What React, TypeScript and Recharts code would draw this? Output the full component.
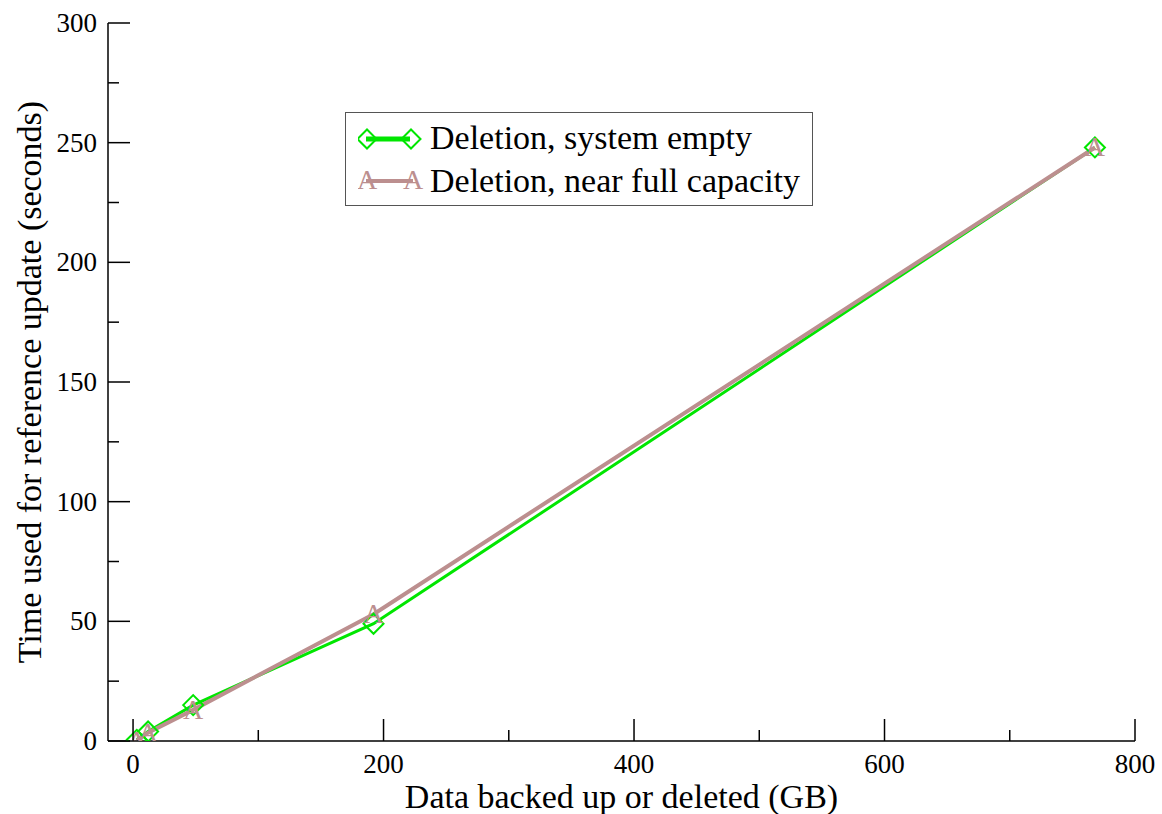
import React from 'react';
import { LineChart, Line, XAxis, YAxis, Legend, Label } from 'recharts';

const xValues = [3, 12, 48, 192, 768];
const emptyTimes = [0.5, 4, 15, 49, 248];
const fullTimes = [0.2, 3.5, 13, 53, 248];
const seriesNames = ['Deletion, system empty', 'Deletion, near full capacity'];
const xTicks = [0, 100, 200, 300, 400, 500, 600, 700, 800];
const xLabelTicks = [0, 200, 400, 600, 800];
const yTicks = [0, 25, 50, 75, 100, 125, 150, 175, 200, 225, 250, 275, 300];
const yLabelTicks = [0, 50, 100, 150, 200, 250, 300];
const xTitle = 'Data backed up or deleted (GB)';
const yTitle = 'Time used for reference update (seconds)';

const data = xValues.map((x, i) => ({ x, empty: emptyTimes[i], full: fullTimes[i] }));

const GREEN = '#00e600';
const BROWN = '#bc8f8f';
const FONT = '"Liberation Serif", "DejaVu Serif", serif';
const TICK_FONT = 27;
const TITLE_FONT = 34;
const LEGEND_FONT = 34;
const MAJOR = 22;
const MINOR = 11;

const BottomTick = (p: any) => {
  const { x, y, payload } = p;
  const major = xLabelTicks.includes(payload.value);
  return (
    <g>
      <line x1={x} x2={x} y1={y} y2={y - (major ? MAJOR : MINOR)} stroke="#000" strokeWidth={1.5} />
      {major && (
        <text x={x} y={y + 32} textAnchor="middle" fontSize={TICK_FONT} fontFamily={FONT} fill="#000">
          {payload.value}
        </text>
      )}
    </g>
  );
};

const TopTick = (p: any) => {
  const { x, y, payload } = p;
  const major = xLabelTicks.includes(payload.value);
  return <line x1={x} x2={x} y1={y} y2={y + (major ? MAJOR : MINOR)} stroke="#000" strokeWidth={1.5} />;
};

const LeftTick = (p: any) => {
  const { x, y, payload } = p;
  const major = yLabelTicks.includes(payload.value);
  return (
    <g>
      <line x1={x} x2={x + (major ? MAJOR : MINOR)} y1={y} y2={y} stroke="#000" strokeWidth={1.5} />
      {major && (
        <text x={x - 11} y={y + 9} textAnchor="end" fontSize={TICK_FONT} fontFamily={FONT} fill="#000">
          {payload.value}
        </text>
      )}
    </g>
  );
};

const RightTick = (p: any) => {
  const { x, y, payload } = p;
  const major = yLabelTicks.includes(payload.value);
  return <line x1={x} x2={x - (major ? MAJOR : MINOR)} y1={y} y2={y} stroke="#000" strokeWidth={1.5} />;
};

const Diamond = ({ cx, cy, r = 10, sw = 2 }: any) => (
  <path d={`M${cx - r},${cy} L${cx},${cy - r} L${cx + r},${cy} L${cx},${cy + r} Z`} fill="none" stroke={GREEN} strokeWidth={sw} />
);

const AMark = ({ cx, cy }: any) => (
  <text x={cx} y={cy + 9} textAnchor="middle" fontSize={28} fontFamily={FONT} fill={BROWN}>
    A
  </text>
);

const renderDiamond = (p: any) => {
  if (p.cx == null || p.cy == null) return <g key={p.index} />;
  return <Diamond key={p.index} cx={p.cx} cy={p.cy} />;
};
const renderA = (p: any) => {
  if (p.cx == null || p.cy == null) return <g key={p.index} />;
  return <AMark key={p.index} cx={p.cx} cy={p.cy} />;
};

const LegendBox = () => (
  <div
    style={{
      border: '1.5px solid #555',
      background: '#fff',
      width: 468,
      height: 94,
      boxSizing: 'border-box',
      fontFamily: FONT,
      fontSize: LEGEND_FONT,
      color: '#000',
      position: 'relative',
    }}
  >
    {seriesNames.map((name, i) => (
      <div key={name} style={{ position: 'absolute', left: 12, top: i === 0 ? 6 : 49, height: 38, display: 'flex', alignItems: 'center' }}>
        <svg width={72} height={38} style={{ display: 'block' }}>
          {i === 0 ? (
            <g>
              <line x1={8} x2={52} y1={20} y2={20} stroke={GREEN} strokeWidth={5} />
              <Diamond cx={9} cy={20} r={9.5} sw={2} />
              <Diamond cx={53} cy={20} r={9.5} sw={2} />
            </g>
          ) : (
            <g>
              <line x1={8} x2={55} y1={19} y2={19} stroke={BROWN} strokeWidth={4} />
              <AMark cx={9} cy={18} />
              <AMark cx={55} cy={18} />
            </g>
          )}
        </svg>
        <span style={{ marginLeft: 0, whiteSpace: 'nowrap', lineHeight: '38px' }}>{name}</span>
      </div>
    ))}
  </div>
);

export default function App() {
  return (
    <div style={{ position: 'absolute', left: 0, top: 0, background: '#fff' }}>
      <LineChart width={1162} height={814} data={data} margin={{ top: 23, right: 27, bottom: 0, left: 0 }}>
        <XAxis
          xAxisId="bottom"
          dataKey="x"
          type="number"
          domain={[-20, 800]}
          ticks={xTicks}
          interval={0}
          height={73}
          tickSize={0}
          tickMargin={0}
          tick={<BottomTick />}
          tickLine={false}
          axisLine={{ stroke: '#000', strokeWidth: 1.5 }}
          allowDataOverflow
        >
          <Label
            content={(lp: any) => {
              const vb = lp.viewBox || { x: 108, y: 741, width: 1027, height: 73 };
              return (
                <text x={vb.x + vb.width / 2} y={vb.y + 67} textAnchor="middle" fontSize={TITLE_FONT} fontFamily={FONT} fill="#000">
                  {xTitle}
                </text>
              );
            }}
          />
        </XAxis>
        <XAxis
          xAxisId="top"
          orientation="top"
          dataKey="x"
          type="number"
          domain={[-20, 800]}
          ticks={xTicks}
          interval={0}
          height={0}
          tickSize={0}
          tickMargin={0}
          tick={<TopTick />}
          tickLine={false}
          axisLine={{ stroke: '#000', strokeWidth: 1.5 }}
          allowDataOverflow
        />
        <YAxis
          yAxisId="left"
          type="number"
          domain={[0, 300]}
          ticks={yTicks}
          interval={0}
          width={108}
          tickSize={0}
          tickMargin={0}
          tick={<LeftTick />}
          tickLine={false}
          axisLine={{ stroke: '#000', strokeWidth: 1.5 }}
          allowDataOverflow
        >
          <Label
            content={(lp: any) => {
              const vb = lp.viewBox || { x: 0, y: 23, width: 108, height: 718 };
              const cx = vb.x + 29;
              const cy = vb.y + vb.height / 2;
              return (
                <text
                  x={cx}
                  y={cy}
                  transform={`rotate(-90 ${cx} ${cy})`}
                  textAnchor="middle"
                  dominantBaseline="central"
                  fontSize={TITLE_FONT}
                  fontFamily={FONT}
                  fill="#000"
                >
                  {yTitle}
                </text>
              );
            }}
          />
        </YAxis>
        <YAxis
          yAxisId="right"
          orientation="right"
          type="number"
          domain={[0, 300]}
          ticks={yTicks}
          interval={0}
          width={0}
          tickSize={0}
          tickMargin={0}
          tick={<RightTick />}
          tickLine={false}
          axisLine={{ stroke: '#000', strokeWidth: 1.5 }}
          allowDataOverflow
        />
        <Legend
          layout="vertical"
          align="center"
          verticalAlign="middle"
          content={() => <LegendBox />}
          wrapperStyle={{ left: 345, top: 112, width: 'auto', height: 'auto' }}
        />
        <Line
          xAxisId="bottom"
          yAxisId="left"
          type="linear"
          dataKey="empty"
          name={seriesNames[0]}
          stroke={GREEN}
          strokeWidth={3}
          dot={renderDiamond}
          activeDot={false}
          isAnimationActive={false}
        />
        <Line
          xAxisId="bottom"
          yAxisId="left"
          type="linear"
          dataKey="full"
          name={seriesNames[1]}
          stroke={BROWN}
          strokeWidth={4}
          dot={renderA}
          activeDot={false}
          isAnimationActive={false}
        />
      </LineChart>
    </div>
  );
}
